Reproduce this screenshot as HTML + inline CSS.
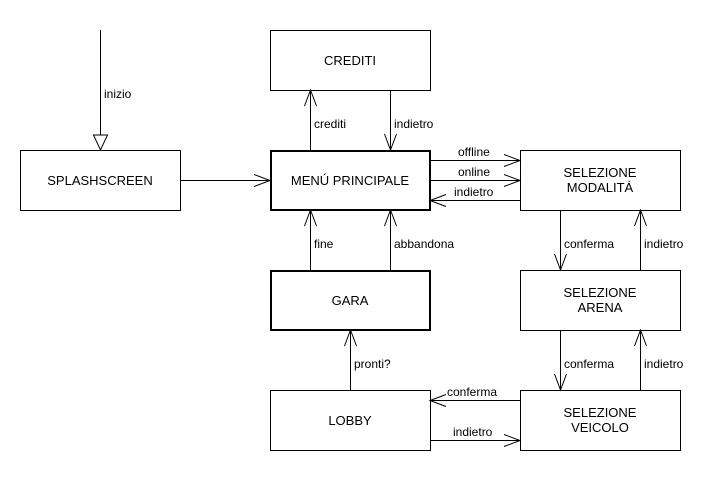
<html><body style="margin:0;background:#fff">
<svg width="720" height="480" xmlns="http://www.w3.org/2000/svg" font-family="Liberation Sans, sans-serif" font-size="12">
<defs>
<marker id="a" markerWidth="20" markerHeight="14" refX="18" refY="7" orient="auto" markerUnits="userSpaceOnUse"><path d="M2,1 L18,7 L2,13" fill="none" stroke="#000"/></marker>
<marker id="t" markerWidth="20" markerHeight="20" refX="16" refY="8" orient="auto" markerUnits="userSpaceOnUse"><path d="M1,1 L16,8 L1,15 Z" fill="#fff" stroke="#000"/></marker>
</defs>
<g fill="#fff" stroke="#000">
<rect x="270.5" y="30.5" width="160" height="60"/>
<rect x="20.5" y="150.5" width="160" height="60"/>
<rect x="271" y="151" width="159" height="59" stroke-width="2"/>
<rect x="520.5" y="150.5" width="160" height="60"/>
<rect x="271" y="271" width="159" height="59" stroke-width="2"/>
<rect x="520.5" y="270.5" width="160" height="60"/>
<rect x="270.5" y="390.5" width="160" height="60"/>
<rect x="520.5" y="390.5" width="160" height="60"/>
</g>
<g stroke="#000" fill="none">
<line x1="100.5" y1="30" x2="100.5" y2="150" marker-end="url(#t)"/>
<line x1="180" y1="180.5" x2="270" y2="180.5" marker-end="url(#a)"/>
<line x1="310.5" y1="150" x2="310.5" y2="90" marker-end="url(#a)"/>
<line x1="390.5" y1="90" x2="390.5" y2="150" marker-end="url(#a)"/>
<line x1="430" y1="160.5" x2="520" y2="160.5" marker-end="url(#a)"/>
<line x1="430" y1="180.5" x2="520" y2="180.5" marker-end="url(#a)"/>
<line x1="520" y1="200.5" x2="430" y2="200.5" marker-end="url(#a)"/>
<line x1="310.5" y1="270" x2="310.5" y2="210" marker-end="url(#a)"/>
<line x1="390.5" y1="270" x2="390.5" y2="210" marker-end="url(#a)"/>
<line x1="560.5" y1="210" x2="560.5" y2="270" marker-end="url(#a)"/>
<line x1="640.5" y1="270" x2="640.5" y2="210" marker-end="url(#a)"/>
<line x1="560.5" y1="330" x2="560.5" y2="390" marker-end="url(#a)"/>
<line x1="640.5" y1="390" x2="640.5" y2="330" marker-end="url(#a)"/>
<line x1="350.5" y1="390" x2="350.5" y2="330" marker-end="url(#a)"/>
<line x1="520" y1="400.5" x2="430" y2="400.5" marker-end="url(#a)"/>
<line x1="430" y1="440.5" x2="520" y2="440.5" marker-end="url(#a)"/>
</g>
<g text-anchor="middle" font-size="13">
<text x="350" y="65">CREDITI</text>
<text x="100" y="185">SPLASHSCREEN</text>
<text x="350" y="185">MENÚ PRINCIPALE</text>
<text x="600" y="177">SELEZIONE</text><text x="600" y="192">MODALITÁ</text>
<text x="350" y="305">GARA</text>
<text x="600" y="297">SELEZIONE</text><text x="600" y="312">ARENA</text>
<text x="350" y="425">LOBBY</text>
<text x="600" y="417">SELEZIONE</text><text x="600" y="432">VEICOLO</text>
</g>
<g>
<text x="104" y="98">inizio</text>
<text x="314" y="128">crediti</text>
<text x="394" y="128">indietro</text>
<text x="458" y="156">offline</text>
<text x="458" y="176">online</text>
<text x="454" y="196">indietro</text>
<text x="314" y="248">fine</text>
<text x="394" y="248">abbandona</text>
<text x="564" y="248">conferma</text>
<text x="644" y="248">indietro</text>
<text x="564" y="368">conferma</text>
<text x="644" y="368">indietro</text>
<text x="354" y="368">pronti?</text>
<text x="447" y="396">conferma</text>
<text x="453" y="436">indietro</text>
</g>
</svg>
</body></html>
